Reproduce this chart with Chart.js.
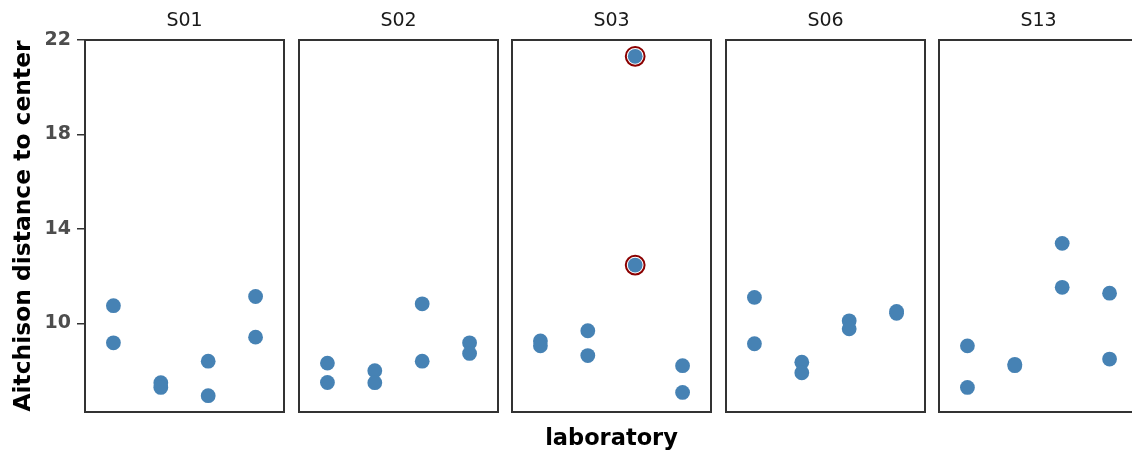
<!DOCTYPE html>
<html>
<head>
<meta charset="utf-8">
<title>Aitchison distance by laboratory</title>
<script src="https://cdn.jsdelivr.net/npm/chart.js@4.4.1/dist/chart.umd.min.js"></script>
<style>
  html, body { margin: 0; padding: 0; background: #fff; overflow: hidden; }
  #wrap { position: relative; width: 1132px; height: 454px; overflow: hidden; }
  #wrap canvas { position: absolute; top: 0; }
</style>
</head>
<body>
<div id="wrap"></div>
<script>
'use strict';

// DATA - two replicates per laboratory, labs 1..4 in each sample panel
const samples = ['S01', 'S02', 'S03', 'S06', 'S13'];
const pointLab = [1, 1, 2, 2, 3, 3, 4, 4];
const distS01 = [10.75, 9.18, 7.49, 7.29, 8.40, 6.94, 11.14, 9.42];
const distS02 = [8.32, 7.50, 8.00, 7.49, 10.83, 8.40, 9.18, 8.73];
const distS03 = [9.26, 9.05, 9.69, 8.64, 21.31, 12.47, 8.21, 7.08];
const distS06 = [11.10, 9.14, 8.36, 7.91, 10.11, 9.77, 10.51, 10.43];
const distS13 = [9.05, 7.29, 8.27, 8.21, 13.39, 11.53, 11.28, 8.49];
const outlierS03 = [4, 5];
const yTicks = [10, 14, 18, 22];

const distBySample = [distS01, distS02, distS03, distS06, distS13];
const outliersBySample = [[], [], outlierS03, [], []];

// LAYOUT
const H = 454;
const PANEL_LEFT = 85;
const PANEL_STEP = 213.5;
const PANEL_W = 199;
const PAD = 12;
const PLOT_BOTTOM_GAP = 42;

const wrap = document.getElementById('wrap');

// outline around every facet
const panelFrame = {
  id: 'panelFrame',
  afterDatasetsDraw(chart) {
    const { ctx, chartArea: a } = chart;
    ctx.save();
    ctx.strokeStyle = '#333333';
    ctx.lineWidth = 2;
    ctx.strokeRect(a.left, a.top, a.right - a.left, a.bottom - a.top);
    ctx.restore();
  }
};

function makePanel(i) {
  const first = i === 0;
  const panelLeft = PANEL_LEFT + i * PANEL_STEP;
  const canvasLeft = first ? 0 : panelLeft - PAD;
  const canvasW = first ? panelLeft + PANEL_W + PAD : PANEL_W + 2 * PAD;

  const canvas = document.createElement('canvas');
  canvas.width = canvasW;
  canvas.height = H;
  canvas.style.left = canvasLeft + 'px';
  canvas.style.width = canvasW + 'px';
  canvas.style.height = H + 'px';
  wrap.appendChild(canvas);

  const values = distBySample[i];
  const points = values.map((v, k) => ({ x: pointLab[k], y: v }));
  const flagged = outliersBySample[i].map(k => ({ x: pointLab[k], y: values[k] }));

  return new Chart(canvas.getContext('2d'), {
    type: 'scatter',
    data: {
      datasets: [{
        data: points,
        pointRadius: 7.4,
        pointHoverRadius: 7.4,
        pointBackgroundColor: '#4682B4',
        pointBorderWidth: 0,
        borderColor: '#4682B4'
      },
      {
        data: flagged,
        pointRadius: 9.4,
        pointHoverRadius: 9.4,
        pointBackgroundColor: '#ffffff',
        pointBorderColor: '#8B0000',
        pointBorderWidth: 2
      }]
    },
    options: {
      responsive: false,
      animation: false,
      devicePixelRatio: 1,
      events: [],
      clip: false,
      layout: {
        padding: { left: first ? 0 : PAD, right: PAD, top: 0, bottom: 0 }
      },
      plugins: {
        legend: { display: false },
        tooltip: { enabled: false },
        title: {
          display: true,
          text: samples[i],
          fullSize: false,
          color: '#1a1a1a',
          font: { family: 'DejaVu Sans', size: 19, weight: 'normal', lineHeight: 1.2 },
          padding: { top: 9.8, bottom: 7.4 }
        }
      },
      scales: {
        x: {
          type: 'linear',
          min: 0.4,
          max: 4.6,
          display: true,
          grid: { display: false },
          border: { display: false },
          ticks: { display: false },
          afterFit(scale) { scale.height = PLOT_BOTTOM_GAP; },
          title: {
            display: i === 2,
            text: 'laboratory',
            color: '#000000',
            font: { family: 'DejaVu Sans', size: 22.5, weight: 'bold', lineHeight: 1.2 },
            padding: { top: 0, bottom: 1.8 }
          }
        },
        y: {
          type: 'linear',
          min: 6.25,
          max: 22,
          display: first,
          afterBuildTicks(scale) { scale.ticks = yTicks.map(v => ({ value: v })); },
          afterFit(scale) { scale.width = first ? PANEL_LEFT : 0; },
          border: { display: false },
          grid: {
            display: true,
            drawOnChartArea: false,
            drawTicks: true,
            tickLength: 8,
            color: '#333333',
            lineWidth: 1.5
          },
          ticks: {
            padding: 6,
            color: '#4d4d4d',
            font: { family: 'DejaVu Sans', size: 19, weight: 'bold' }
          },
          title: {
            display: true,
            text: 'Aitchison distance to center',
            color: '#000000',
            font: { family: 'DejaVu Sans', size: 23.4, weight: 'bold', lineHeight: 1.2 },
            padding: { top: 9.6, bottom: 0 }
          }
        }
      }
    },
    plugins: [panelFrame]
  });
}

for (let i = 0; i < samples.length; i++) {
  makePanel(i);
}
</script>
</body>
</html>
